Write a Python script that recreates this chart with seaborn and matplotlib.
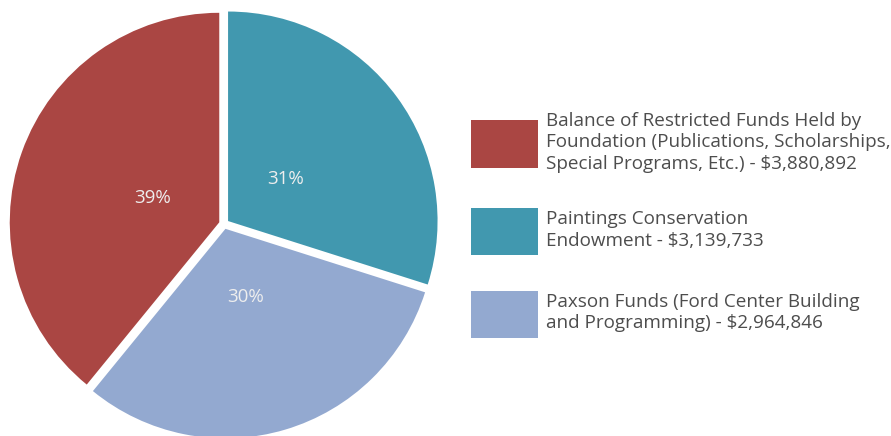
import matplotlib
matplotlib.use('Agg')
import matplotlib.pyplot as plt
import numpy as np
import seaborn as sns

labels = ['Balance of Restricted Funds Held by\nFoundation (Publications, Scholarships,\nSpecial Programs, Etc.) - $3,880,892',
          'Paintings Conservation\nEndowment - $3,139,733',
          'Paxson Funds (Ford Center Building\nand Programming) - $2,964,846']
# slice shares as drawn in the picture (degrees of arc / 3.6)
shares = [39.1, 29.9, 31.0]
pct_labels = ['39%', '31%', '30%']
colors = ['#AA4643', '#4198AF', '#93A9D0']

sns.set_style('white')
plt.rcParams['font.family'] = ['Open Sans', 'DejaVu Sans']

fig = plt.figure(figsize=(8.91, 4.36), dpi=100)
W, H = 891, 436
# pie centre (224, 224) px from top, radius ~209.5 px, limits +-1.1
r = 209.5
half = 1.1 * r
ax = fig.add_axes([(224 - half) / W, (H - 224 - half) / H, 2 * half / W, 2 * half / H])

wedges, texts = ax.pie(
    shares, colors=colors, startangle=90 + 3.6 * shares[0],
    counterclock=False, explode=[0.024] * 3,
    wedgeprops=dict(linewidth=0))
for w, lab in zip(wedges, pct_labels):
    w.set_clip_on(False)
    ang = np.deg2rad((w.theta1 + w.theta2) / 2)
    cx, cy = w.center
    ax.text(cx + 0.34 * np.cos(ang), cy + 0.34 * np.sin(ang), lab,
            ha='center', va='center', color='#eeeeee', fontsize=13.5)
ax.set_xlim(-1.1, 1.1)
ax.set_ylim(-1.1, 1.1)
ax.axis('off')

leg = fig.legend(wedges, labels, loc='center left', bbox_to_anchor=(471 / W, 1 - 225 / H),
                 frameon=False, fontsize=13.6, handlelength=3.55, handleheight=3.5,
                 handletextpad=0.4, labelspacing=1.86, borderpad=0, borderaxespad=0)
for t in leg.get_texts():
    t.set_color('#4d4d4d')
    t.set_linespacing(1.25)

fig.savefig('out.png', dpi=100)
